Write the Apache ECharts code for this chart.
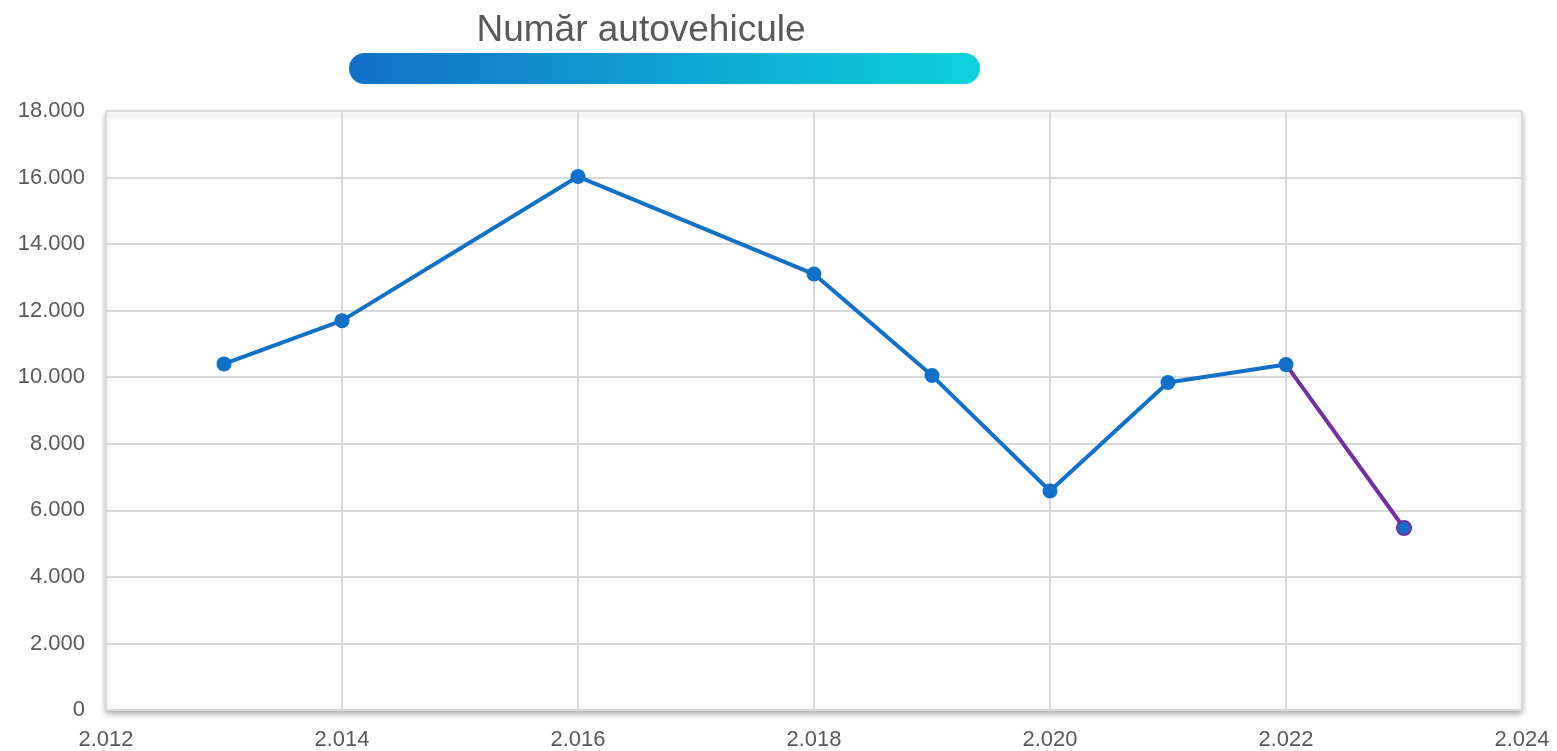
<!DOCTYPE html>
<html><head><meta charset="utf-8">
<script src="https://cdn.jsdelivr.net/npm/echarts@6/dist/echarts.min.js"></script>
<style>html,body{margin:0;padding:0;background:#fff}#c{width:1557px;height:751px}</style>
</head><body><div id="c"></div>
<script>
const titleText = 'Număr autovehicule';
const years = [2013, 2014, 2016, 2018, 2019, 2020, 2021, 2022, 2023];
const values = [10400, 11700, 16030, 13100, 10050, 6580, 9840, 10380, 5470];
const xTicks = [2012, 2014, 2016, 2018, 2020, 2022, 2024];
const yTicks = [0, 2000, 4000, 6000, 8000, 10000, 12000, 14000, 16000, 18000];

const fmt = v => String(v).replace(/\B(?=(\d{3})+(?!\d))/g, '.');
const pts = years.map((y, i) => [y, values[i]]);
const mainPts = pts.slice(0, pts.length - 1);
const lastPts = pts.slice(pts.length - 2).map((p, i) => i === 0 ? {value: p, symbol: 'none'} : {value: p});

const chart = echarts.init(document.getElementById('c'));
chart.setOption({
  animation: false,
  title: {
    text: titleText, left: 636, top: 7, textAlign: 'center',
    textStyle: {fontFamily: 'Liberation Sans, Arial', fontSize: 37, fontWeight: 'normal', color: '#595959'}
  },
  graphic: [{
    type: 'rect', left: 349, top: 53, shape: {width: 631, height: 31, r: 15.5},
    style: {fill: new echarts.graphic.LinearGradient(0, 0, 1, 0, [
      {offset: 0, color: '#1170c8'}, {offset: 1, color: '#0dd3db'}])}
  }],
  grid: {
    left: 106, right: 35, top: 111, bottom: 38, show: true,
    backgroundColor: '#fff', borderColor: '#d9d9d9', borderWidth: 1,
    shadowBlur: 6, shadowColor: 'rgba(0,0,0,0.35)', shadowOffsetY: 3
  },
  xAxis: {
    type: 'value', min: xTicks[0], max: xTicks[xTicks.length - 1], interval: 2,
    axisLine: {show: false}, axisTick: {show: false},
    splitLine: {show: true, lineStyle: {color: '#d9d9d9', width: 2}},
    axisLabel: {formatter: fmt, fontFamily: 'Liberation Sans, Arial', fontSize: 22, color: '#595959', margin: 19}
  },
  yAxis: {
    type: 'value', min: yTicks[0], max: yTicks[yTicks.length - 1], interval: 2000,
    axisLine: {show: false}, axisTick: {show: false},
    splitLine: {show: true, lineStyle: {color: '#d9d9d9', width: 2}},
    axisLabel: {formatter: fmt, fontFamily: 'Liberation Sans, Arial', fontSize: 22, color: '#595959', margin: 21, padding: [0, 0, 6, 0]}
  },
  series: [{
    type: 'line', data: lastPts, z: 2,
    lineStyle: {color: '#7030a0', width: 4},
    symbol: 'circle', symbolSize: 14,
    itemStyle: {color: '#1170c8', borderColor: '#7030a0', borderWidth: 2}
  }, {
    type: 'line', data: mainPts, z: 3,
    lineStyle: {color: '#1170c8', width: 4},
    symbol: 'circle', symbolSize: 15,
    itemStyle: {color: '#1170c8', borderWidth: 0}
  }]
});
</script></body></html>
